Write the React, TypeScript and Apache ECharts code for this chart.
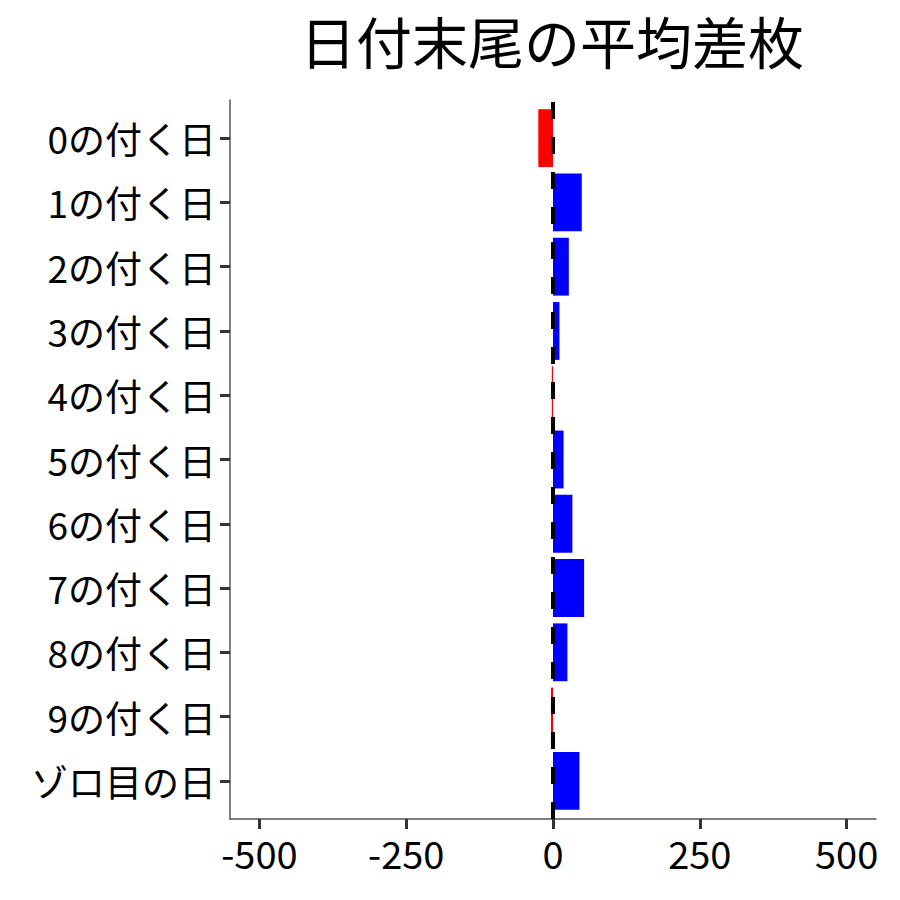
import React, { useEffect, useRef } from "react";
import * as echarts from "echarts";

const titleText = "日付末尾の平均差枚";
const categories = [
  "0の付く日",
  "1の付く日",
  "2の付く日",
  "3の付く日",
  "4の付く日",
  "5の付く日",
  "6の付く日",
  "7の付く日",
  "8の付く日",
  "9の付く日",
  "ゾロ目の日",
];
const values = [-25, 49, 27, 11, -2, 18, 33, 53, 24.5, -3.5, 45];
const xTicks = [-500, -250, 0, 250, 500];
const xMin = -550;
const xMax = 550;

const FONT = "'Noto Sans CJK JP', 'Noto Sans', sans-serif";

export default function App() {
  const ref = useRef<HTMLDivElement>(null);
  useEffect(() => {
    if (!ref.current) return;
    const chart = echarts.init(ref.current, null, { renderer: "svg" });
    chart.setOption({
      animation: false,
      backgroundColor: "#ffffff",
      title: {
        text: titleText,
        left: 547,
        textAlign: "center",
        top: 6,
        textStyle: { fontFamily: FONT, fontSize: 56, fontWeight: "normal", color: "#000" },
      },
      grid: [
        { left: 230, right: 24, top: 106, bottom: 87, containLabel: false },
        { left: 230, right: 24, top: 100, bottom: 81, containLabel: false },
      ],
      xAxis: [
        { gridIndex: 0, type: "value", min: xMin, max: xMax, show: false },
        {
          gridIndex: 1,
          type: "value",
          min: xMin,
          max: xMax,
          axisLine: { show: true, onZero: false, lineStyle: { color: "#555", width: 1.5 } },
          axisTick: {
            show: true,
            length: 10,
            customValues: xTicks,
            lineStyle: { color: "#333", width: 3 },
          },
          axisLabel: {
            show: true,
            customValues: xTicks,
            margin: 14,
            fontFamily: FONT,
            fontSize: 38,
            color: "#000",
          },
          splitLine: { show: false },
        },
      ],
      yAxis: [
        {
          gridIndex: 0,
          type: "category",
          data: categories,
          inverse: true,
          axisLine: { show: false, onZero: false },
          axisTick: {
            show: true,
            alignWithLabel: true,
            length: 10,
            lineStyle: { color: "#333", width: 3 },
          },
          axisLabel: { margin: 14, fontFamily: FONT, fontSize: 37, color: "#000" },
          splitLine: { show: false },
        },
        {
          gridIndex: 1,
          type: "value",
          min: 0,
          max: 1,
          axisLine: { show: true, onZero: false, lineStyle: { color: "#555", width: 1.5 } },
          axisTick: { show: false },
          axisLabel: { show: false },
          splitLine: { show: false },
        },
      ],
      series: [
        {
          type: "bar",
          xAxisIndex: 0,
          yAxisIndex: 0,
          barWidth: "90%",
          data: values.map((v) => ({
            value: v,
            itemStyle: { color: v < 0 ? "#ff0000" : "#0000ff" },
          })),
        },
        {
          type: "scatter",
          xAxisIndex: 1,
          yAxisIndex: 1,
          data: [],
          z: 5,
          markLine: {
            silent: true,
            symbol: "none",
            label: { show: false },
            lineStyle: { color: "#000", width: 4, type: [17, 18] },
            data: [{ xAxis: 0 }],
          },
        },
      ],
    });
    return () => chart.dispose();
  }, []);
  return (
    <div
      ref={ref}
      style={{ position: "fixed", left: 0, top: 0, width: 900, height: 900 }}
    />
  );
}
